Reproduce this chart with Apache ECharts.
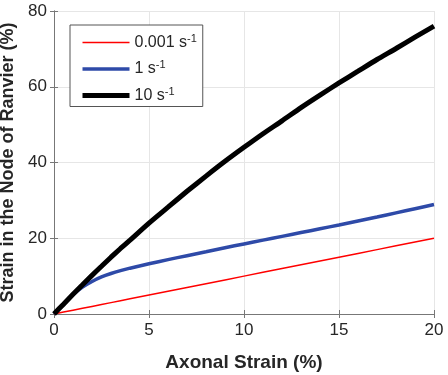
<!DOCTYPE html>
<html>
<head>
<meta charset="utf-8">
<script src="https://cdn.jsdelivr.net/npm/echarts@6/dist/echarts.min.js"></script>
<style>
  html, body { margin: 0; padding: 0; background: #fff; }
  #chart { width: 448px; height: 375px; }
</style>
</head>
<body>
<div id="chart"></div>
<script>
// axonal strain (%)
const strainX = [0, 0.5, 1, 1.5, 2, 2.5, 3, 3.5, 4, 5, 6, 7, 8, 9, 10, 11, 12, 13, 14, 15, 16, 17, 18, 19, 20]
// node of Ranvier strain (%) per strain rate
const rateSlow = [0, 0.5, 1, 1.5, 2, 2.5, 3, 3.5, 4, 5, 6, 7, 8, 9, 10, 11, 12, 13, 14, 15, 16, 17, 18, 19, 20]
const rateMid = [0, 2.7, 5.1, 7.1, 8.6, 9.8, 10.7, 11.45, 12.1, 13.25, 14.35, 15.4, 16.45, 17.5, 18.5, 19.5, 20.5, 21.5, 22.5, 23.5, 24.55, 25.6, 26.7, 27.8, 28.9]
const rateFast = [0, 2.6, 5.2, 7.7, 10.2, 12.6, 15, 17.3, 19.5, 24, 28.2, 32.4, 36.4, 40.3, 44, 47.6, 51, 54.5, 57.8, 61, 64.1, 67.2, 70.1, 73.1, 76]
const seriesNames = ['0.001 s{sup|-1}', '1 s{sup|-1}', '10 s{sup|-1}']
const xTicks = [0, 5, 10, 15, 20]
const yTicks = [0, 20, 40, 60, 80]

const font = 'Liberation Sans, Arial, sans-serif'
const axisColor = '#777'
const textColor = '#262626'
const colors = ['#ff0000', '#2e4aa8', '#000']
const widths = [1.5, 3.5, 5]

function pairs(ys) {
  return strainX.map((x, i) => [x, ys[i]])
}

let myChart = echarts.init(document.getElementById('chart'))

let option = {
  animation: false,
  textStyle: { fontFamily: font },
  grid: { left: 54, right: 14, top: 11, bottom: 61, containLabel: false, outerBoundsMode: 'none' },
  legend: {
    orient: 'vertical',
    left: 70,
    top: 25,
    padding: [8, 6, 3, 10],
    itemGap: 9,
    itemWidth: 47,
    itemHeight: 14,
    borderColor: '#555',
    borderWidth: 1,
    backgroundColor: '#fff',
    itemStyle: { opacity: 0 },
    formatter: name => name,
    textStyle: {
      fontFamily: font,
      fontSize: 16,
      color: textColor,
      rich: {
        sup: { fontSize: 11, verticalAlign: 'top', padding: [0, 0, 8, 0], color: textColor }
      }
    },
    data: seriesNames.map((n, i) => ({
      name: n,
      lineStyle: { color: colors[i], width: widths[i] }
    }))
  },
  xAxis: [
    {
      type: 'value',
      min: 0,
      max: 20,
      interval: 5,
      name: 'Axonal Strain (%)',
      nameLocation: 'middle',
      nameGap: 39,
      nameTextStyle: { fontSize: 19, fontWeight: 'bold', color: textColor },
      axisLine: { show: true, lineStyle: { color: axisColor } },
      axisTick: { show: true, inside: true, length: 4, lineStyle: { color: axisColor } },
      axisLabel: { fontSize: 17, color: textColor, margin: 8 },
      splitLine: { show: true, lineStyle: { color: '#e6e6e6' } }
    },
    {
      type: 'value',
      position: 'top',
      min: 0,
      max: 20,
      interval: 5,
      axisLine: { show: true, lineStyle: { color: axisColor } },
      axisTick: { show: true, inside: true, length: 4, lineStyle: { color: axisColor } },
      axisLabel: { show: false },
      splitLine: { show: false }
    }
  ],
  yAxis: [
    {
      type: 'value',
      min: 0,
      max: 80,
      interval: 20,
      name: 'Strain in the Node of Ranvier (%)',
      nameLocation: 'middle',
      nameGap: 27,
      nameTextStyle: { fontSize: 18, fontWeight: 'bold', color: textColor },
      axisLine: { show: true, lineStyle: { color: axisColor } },
      axisTick: { show: true, inside: true, length: 4, lineStyle: { color: axisColor } },
      axisLabel: { fontSize: 17, color: textColor, margin: 7 },
      splitLine: { show: true, lineStyle: { color: '#e6e6e6' } }
    },
    {
      type: 'value',
      position: 'right',
      min: 0,
      max: 80,
      interval: 20,
      axisLine: { show: true, lineStyle: { color: axisColor } },
      axisTick: { show: true, inside: true, length: 4, lineStyle: { color: axisColor } },
      axisLabel: { show: false },
      splitLine: { show: false }
    }
  ],
  series: [rateSlow, rateMid, rateFast].map((ys, i) => ({
    name: seriesNames[i],
    type: 'line',
    data: pairs(ys),
    showSymbol: false,
    symbol: 'none',
    smooth: i === 0 ? false : 0.2,
    lineStyle: { color: colors[i], width: widths[i] },
    itemStyle: { color: colors[i] }
  }))
}

myChart.setOption(option)
</script>
</body>
</html>
